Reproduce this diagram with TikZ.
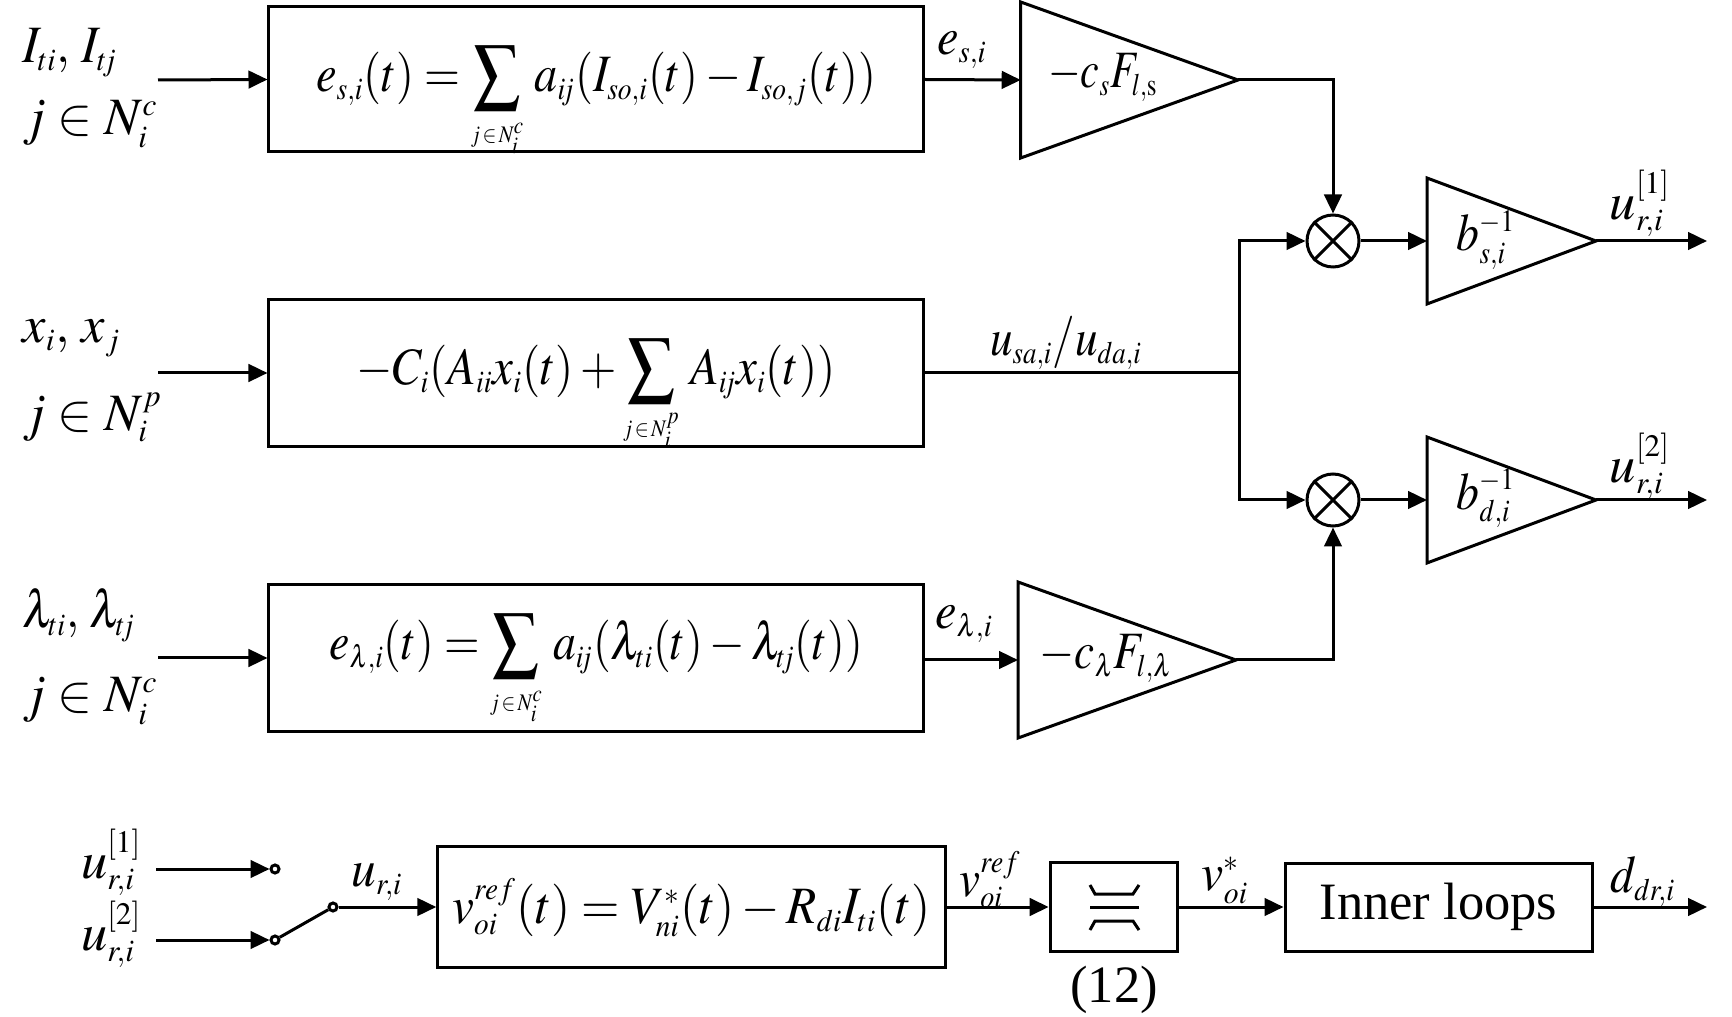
\documentclass[tikz,border=0pt]{standalone}
\usepackage{mathptmx}
\usepackage[no-math]{fontspec}
\setmainfont{Liberation Serif}
\usepackage{graphicx}
\usetikzlibrary{arrows.meta,calc}
\DeclareMathSizes{21}{21}{12.5}{9.5}
\newcommand{\hs}[2][0.88]{\scalebox{#1}[1]{#2}}
\newcommand{\tj}[1]{#1\mkern-2.5mu j}
\tikzset{
  ln/.style={line width=1.2pt},
  arr/.style={ln,-{Triangle[length=7.6pt,width=7pt]}},
  blk/.style={draw,ln,rectangle,inner sep=0pt},
  mult/.style={draw,ln,circle,minimum size=20.8pt,inner sep=0pt},
  port/.style={draw,ln,circle,minimum size=3.2pt,inner sep=0pt,fill=white},
  lbl/.style={inner sep=0pt,anchor=mid},
  every node/.style={font=\fontsize{21}{25}\selectfont}
}
\begin{document}
\begin{tikzpicture}[x=0.4pt,y=-0.4pt]
\useasboundingbox (0,0) rectangle (1732,1017);
% ---------- blocks ----------
\node[blk,minimum width=261.6pt,minimum height=58pt] (b1) at (596,79.5) {};
\node[blk,minimum width=261.6pt,minimum height=58.8pt] (b2) at (596,373) {};
\node[blk,minimum width=261.6pt,minimum height=59pt] (b3) at (596,658) {};
\node[blk,minimum width=202.9pt,minimum height=48.3pt] (b4) at (691.4,907) {};
\node[blk,minimum width=51.1pt,minimum height=35.5pt] (lim) at (1114,907) {};
\node[blk,minimum width=122.8pt,minimum height=35.2pt] (inner) at (1438.5,907) {Inner loops};
% ---------- block texts ----------
\node[lbl] (t1) at (596,86) {\hs[0.88]{$\displaystyle e_{s,i}(t)=\sum\limits_{\scriptscriptstyle j\,{\in}\,N_i^c}\, a_{\tj{i}}(I_{so,i}(t)-I_{so,j}(t))$}};
\node[lbl] (t2) at (596,379) {\hs[0.89]{$\displaystyle -C_i(A_{ii}x_i(t)+\sum\limits_{\scriptscriptstyle j\,{\in}\,N_i^p}\, A_{\tj{i}}x_i(t))$}};
\node[lbl] (t3) at (596,654) {\hs[0.87]{$\displaystyle e_{\lambda,i}(t)=\sum\limits_{\scriptscriptstyle j\,{\in}\,N_i^c}\, a_{\tj{i}}(\lambda_{ti}(t)-\lambda_{\tj{t}}(t))$}};
\node[lbl] (t4) at (691.4,918) {\hs[0.94]{$v_{oi}^{ref}(t)=V_{ni}^{*}(t)-R_{di}I_{ti}(t)$}};
% ---------- gains (triangles) ----------
\draw[ln] (1020.7,2) -- (1238,80) -- (1020.7,158) -- cycle;
\coordinate (g1in) at (1020.7,80); \coordinate (g1out) at (1238,80);
\node[lbl] (g1t) at (1103,82) {\hs[0.8]{$-c_sF_{l,\mathrm{s}}$}};
\draw[ln] (1018,582) -- (1236,660) -- (1018,738) -- cycle;
\coordinate (g4in) at (1018,660); \coordinate (g4out) at (1236,660);
\node[lbl] (g4t) at (1106,663) {\hs[0.86]{$-c_\lambda F_{l,\lambda}$}};
\draw[ln] (1427,178) -- (1596,241) -- (1427,304) -- cycle;
\coordinate (g2in) at (1427,241); \coordinate (g2out) at (1596,241);
\node[lbl] (g2t) at (1486,245) {\hs[0.87]{$b_{s,i}^{-1}$}};
\draw[ln] (1427,437) -- (1596,500) -- (1427,563) -- cycle;
\coordinate (g3in) at (1427,500); \coordinate (g3out) at (1596,500);
\node[lbl] (g3t) at (1486,504) {\hs[0.87]{$b_{d,i}^{-1}$}};
% ---------- multipliers ----------
\node[mult] (m1) at (1333,241) {};
\draw[ln] (m1.45) -- (m1.225) (m1.135) -- (m1.315);
\node[mult] (m2) at (1333,500) {};
\draw[ln] (m2.45) -- (m2.225) (m2.135) -- (m2.315);
% ---------- inputs ----------
\node[lbl,anchor=mid west] (l1a) at (22,57) {\hs[0.95]{$I_{ti},\, I_{\tj{t}}$}};
\node[lbl,anchor=mid west] (l1b) at (22,129) {$j\in N_i^c$};
\node[lbl,anchor=mid west] (l2a) at (22,337) {$x_i,\, x_j$};
\node[lbl,anchor=mid west] (l2b) at (22,425) {$j\in N_i^p$};
\node[lbl,anchor=mid west] (l3a) at (22,622) {\hs[0.9]{$\lambda_{ti},\, \lambda_{\tj{t}}$}};
\node[lbl,anchor=mid west] (l3b) at (22,706) {$j\in N_i^c$};
\coordinate (in1) at (158,80);
\coordinate (in2) at (158,373);
\coordinate (in3) at (158,658);
\draw[arr] (in1) -- (b1.west);
\draw[arr] (in2) -- (b2.west);
\draw[arr] (in3) -- (b3.west);
% ---------- connectors top part ----------
\draw[arr] (b1.east) -- (g1in);
\node[lbl] (es) at (962,49) {\hs[0.92]{$e_{s,i}$}};
\draw[arr] (g1out) -| (m1.north);
\coordinate (jn) at (1239,373);
\draw[ln] (b2.east) -- (jn);
\node[lbl] (usa) at (1066,350) {\hs[0.86]{$u_{sa,i}/u_{da,i}$}};
\draw[arr] (jn) |- (m1.west);
\draw[arr] (jn) |- (m2.west);
\draw[arr] (b3.east |- g4in) -- (g4in);
\node[lbl] (el) at (964,623) {\hs[0.92]{$e_{\lambda,i}$}};
\draw[arr] (g4out) -| (m2.south);
\draw[arr] (m1.east) -- (g2in);
\draw[arr] (m2.east) -- (g3in);
\coordinate (o1) at (1707,241);
\coordinate (o2) at (1707,500);
\draw[arr] (g2out) -- (o1);
\draw[arr] (g3out) -- (o2);
\node[lbl] (u1) at (1640,214) {$u_{r,i}^{[1]}$};
\node[lbl] (u2) at (1640,477) {$u_{r,i}^{[2]}$};
% ---------- bottom row ----------
\node[lbl,anchor=mid east] (bu1) at (142,873) {$u_{r,i}^{[1]}$};
\node[lbl,anchor=mid east] (bu2) at (142,945) {$u_{r,i}^{[2]}$};
\node[port] (p1) at (275,869) {};
\node[port] (p2) at (275,940) {};
\node[port] (pv) at (333,907) {};
\coordinate (bi1) at (156,869);
\coordinate (bi2) at (156,940);
\draw[arr] (bi1) -- (p1.west);
\draw[arr] (bi2) -- (p2.west);
\draw[ln] (p2) -- (pv);
\draw[arr] (pv.east) -- (b4.west);
\node[lbl] (ur) at (377,881) {\hs[0.94]{$u_{r,i}$}};
\draw[arr] (b4.east) -- (lim.west);
\node[lbl] (vref) at (990,891) {\hs[0.9]{$v_{oi}^{ref}$}};
\draw[arr] (lim.east) -- (inner.west);
\node[lbl] (vst) at (1225,885) {\hs[0.95]{$v_{oi}^{*}$}};
\coordinate (o3) at (1707,907);
\draw[arr] (inner.east) -- (o3);
\node[lbl] (ddr) at (1643,887) {\hs[0.9]{$d_{dr,i}$}};
\node[inner sep=0pt] (eq12) at (1114,990) {(12)};
% limiter glyph
\draw[ln] (1090,885) -- (1095,894) -- (1133,894) -- (1139,885);
\draw[ln] (1090,907) -- (1139,907);
\draw[ln] (1090,930) -- (1095,921) -- (1133,921) -- (1139,930);
\end{tikzpicture}
\end{document}
